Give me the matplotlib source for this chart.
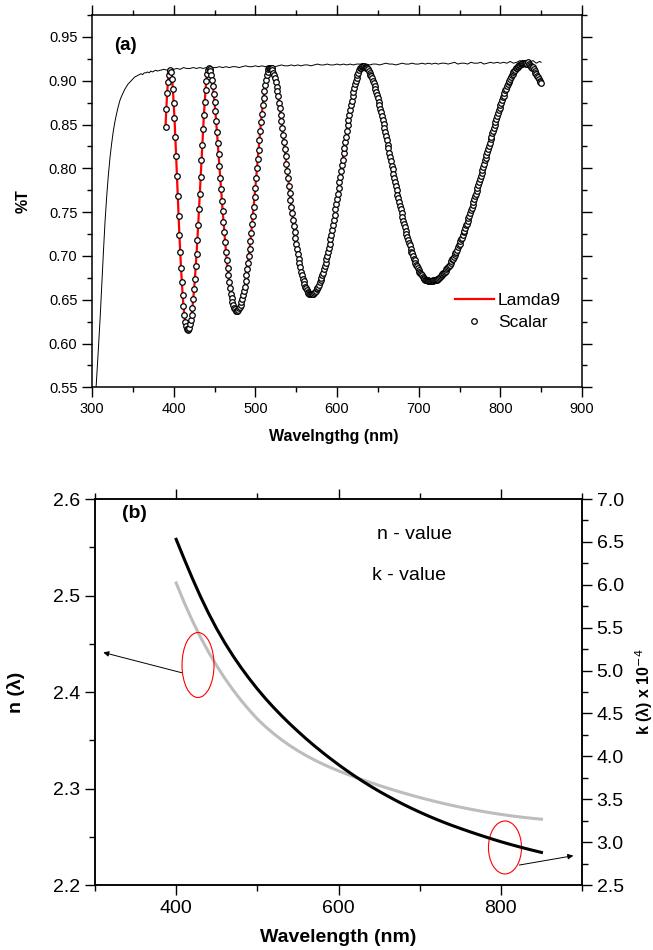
import numpy as np
import matplotlib
matplotlib.use("Agg")
import matplotlib.pyplot as plt
from matplotlib.patches import Ellipse
from matplotlib.ticker import MultipleLocator

plt.rcParams['font.family'] = ['Liberation Sans', 'DejaVu Sans']

# ---- panel (a) : transmission ----
# bare substrate (thin black line)
sub_wl = [305, 306, 308, 310, 312, 314, 316, 318, 320, 322, 324, 326, 328, 330,
          332, 334, 336, 338, 340, 342, 344, 346, 348, 350, 352, 354, 356, 358,
          360, 362, 364, 366, 368, 370, 372, 374, 376, 378, 380] + list(range(384, 849, 4)) + [850]
sub_T = [0.550, 0.565, 0.597, 0.630, 0.668, 0.705, 0.740, 0.768, 0.792, 0.812,
         0.828, 0.842, 0.853, 0.862, 0.870, 0.877, 0.882, 0.886, 0.890, 0.893,
         0.896, 0.898, 0.900, 0.902, 0.904, 0.905, 0.906, 0.907, 0.908, 0.907,
         0.909, 0.909, 0.910, 0.909, 0.911, 0.910, 0.911, 0.912, 0.911,
         # 384 .. 848 every 4 nm
         0.912, 0.913, 0.912, 0.914, 0.913, 0.914, 0.913, 0.915, 0.914, 0.914,
         0.915, 0.914, 0.915, 0.914, 0.915, 0.916, 0.915, 0.915, 0.916, 0.915,
         0.916, 0.915, 0.916, 0.916, 0.915, 0.916, 0.917, 0.916, 0.916, 0.917,
         0.916, 0.917, 0.916, 0.917, 0.917, 0.916, 0.917, 0.918, 0.917, 0.917,
         0.918, 0.917, 0.918, 0.917, 0.918, 0.918, 0.917, 0.918, 0.919, 0.918,
         0.918, 0.919, 0.918, 0.918, 0.919, 0.918, 0.919, 0.918, 0.919, 0.918,
         0.919, 0.919, 0.918, 0.919, 0.918, 0.919, 0.919, 0.918, 0.919, 0.920,
         0.919, 0.919, 0.918, 0.919, 0.920, 0.919, 0.919, 0.920, 0.919, 0.919,
         0.920, 0.919, 0.920, 0.919, 0.920, 0.919, 0.920, 0.920, 0.919, 0.920,
         0.921, 0.919, 0.920, 0.920, 0.919, 0.921, 0.920, 0.920, 0.921, 0.919,
         0.920, 0.921, 0.920, 0.921, 0.920, 0.921, 0.920, 0.922, 0.920, 0.921,
         0.923, 0.920, 0.922, 0.921, 0.923, 0.920, 0.922,
         0.921]

# film, 1 nm steps from 390 to 850 nm
scalar_wl = np.arange(390, 851)
scalar_T = [
    # 390-396
    0.847, 0.868, 0.886, 0.899, 0.907, 0.911, 0.912,
    # 397-417
    0.910, 0.902, 0.891, 0.875, 0.857, 0.836, 0.814, 0.791, 0.768, 0.746,
    0.724, 0.704, 0.686, 0.670, 0.655, 0.643, 0.633, 0.625, 0.620, 0.616, 0.615,
    # 418-443
    0.616, 0.618, 0.622, 0.627, 0.633, 0.641, 0.651, 0.662, 0.674, 0.688,
    0.702, 0.718, 0.735, 0.753, 0.771, 0.790, 0.809, 0.827, 0.845, 0.861,
    0.876, 0.889, 0.900, 0.908, 0.912, 0.914,
    # 444-477
    0.913, 0.911, 0.907, 0.901, 0.894, 0.885, 0.876, 0.865, 0.854, 0.841,
    0.829, 0.816, 0.803, 0.789, 0.776, 0.763, 0.751, 0.739, 0.727, 0.716,
    0.705, 0.695, 0.686, 0.678, 0.670, 0.663, 0.657, 0.652, 0.647, 0.644,
    0.641, 0.639, 0.637, 0.637,
    # 478-518
    0.637, 0.638, 0.640, 0.642, 0.644, 0.647, 0.651, 0.655, 0.660, 0.665,
    0.671, 0.678, 0.685, 0.692, 0.700, 0.708, 0.717, 0.726, 0.736, 0.746,
    0.756, 0.767, 0.778, 0.789, 0.800, 0.811, 0.821, 0.832, 0.843, 0.853,
    0.862, 0.872, 0.880, 0.888, 0.895, 0.901, 0.906, 0.910, 0.913, 0.914, 0.915,
    # 519-568
    0.915, 0.914, 0.912, 0.909, 0.906, 0.903, 0.898, 0.893, 0.888, 0.882,
    0.875, 0.869, 0.861, 0.854, 0.846, 0.838, 0.830, 0.822, 0.814, 0.805,
    0.797, 0.789, 0.780, 0.772, 0.764, 0.756, 0.749, 0.741, 0.734, 0.727,
    0.720, 0.714, 0.708, 0.702, 0.697, 0.692, 0.687, 0.682, 0.678, 0.674,
    0.671, 0.668, 0.665, 0.663, 0.661, 0.659, 0.658, 0.657, 0.656, 0.656,
    # 569-632
    0.656, 0.656, 0.657, 0.658, 0.659, 0.660, 0.662, 0.663, 0.665, 0.667,
    0.670, 0.672, 0.675, 0.678, 0.681, 0.685, 0.688, 0.692, 0.696, 0.700,
    0.705, 0.709, 0.714, 0.719, 0.724, 0.730, 0.735, 0.741, 0.747, 0.753,
    0.759, 0.765, 0.771, 0.778, 0.784, 0.790, 0.797, 0.804, 0.810, 0.817,
    0.823, 0.830, 0.836, 0.843, 0.849, 0.855, 0.861, 0.866, 0.872, 0.877,
    0.883, 0.887, 0.892, 0.896, 0.900, 0.903, 0.907, 0.909, 0.912, 0.914,
    0.915, 0.916, 0.917, 0.917,
    # 633-714
    0.917, 0.916, 0.916, 0.915, 0.914, 0.913, 0.911, 0.909, 0.907, 0.905,
    0.903, 0.900, 0.897, 0.894, 0.891, 0.887, 0.884, 0.880, 0.876, 0.872,
    0.868, 0.864, 0.860, 0.855, 0.851, 0.846, 0.842, 0.837, 0.832, 0.827,
    0.823, 0.818, 0.813, 0.808, 0.803, 0.799, 0.794, 0.789, 0.784, 0.780,
    0.775, 0.770, 0.766, 0.761, 0.757, 0.753, 0.749, 0.744, 0.740, 0.736,
    0.733, 0.729, 0.725, 0.722, 0.718, 0.715, 0.712, 0.708, 0.705, 0.703,
    0.700, 0.697, 0.695, 0.692, 0.690, 0.688, 0.686, 0.684, 0.682, 0.681,
    0.679, 0.678, 0.676, 0.675, 0.674, 0.673, 0.673, 0.672, 0.672, 0.671,
    0.671, 0.671,
    # 715-829
    0.671, 0.671, 0.671, 0.672, 0.672, 0.672, 0.673, 0.673, 0.674, 0.674,
    0.675, 0.676, 0.677, 0.678, 0.679, 0.680, 0.681, 0.682, 0.683, 0.685,
    0.686, 0.687, 0.689, 0.690, 0.692, 0.694, 0.696, 0.697, 0.699, 0.701,
    0.703, 0.705, 0.707, 0.710, 0.712, 0.714, 0.717, 0.719, 0.721, 0.724,
    0.727, 0.729, 0.732, 0.735, 0.737, 0.740, 0.743, 0.746, 0.749, 0.752,
    0.755, 0.758, 0.761, 0.765, 0.768, 0.771, 0.774, 0.778, 0.781, 0.784,
    0.788, 0.791, 0.795, 0.798, 0.802, 0.805, 0.809, 0.812, 0.815, 0.819,
    0.822, 0.826, 0.829, 0.833, 0.836, 0.840, 0.843, 0.846, 0.850, 0.853,
    0.856, 0.860, 0.863, 0.866, 0.869, 0.872, 0.875, 0.878, 0.881, 0.883,
    0.886, 0.889, 0.891, 0.894, 0.896, 0.898, 0.900, 0.902, 0.904, 0.906,
    0.908, 0.910, 0.911, 0.912, 0.914, 0.915, 0.916, 0.917, 0.918, 0.918,
    0.919, 0.919, 0.920, 0.920, 0.920,
    # 830-850
    0.920, 0.919, 0.920, 0.919, 0.921, 0.919, 0.918, 0.917, 0.916, 0.915,
    0.916, 0.913, 0.911, 0.909, 0.908, 0.905, 0.904, 0.902, 0.900, 0.898, 0.897,
]
# Lamda9 measurement lies under the scalar points at this scale
lamda9_T = scalar_T

# ---- panel (b) : optical constants ----
nk_wl = np.arange(400, 851, 10)
n_vals = [2.5130, 2.4925, 2.4738, 2.4568, 2.4413, 2.4271, 2.4141, 2.4022, 2.3913, 2.3813,
          2.3721, 2.3641, 2.3569, 2.3504, 2.3445, 2.3391, 2.3342, 2.3297, 2.3256, 2.3218,
          2.3183, 2.3150, 2.3119, 2.3089, 2.3060, 2.3032, 2.3005, 2.2979, 2.2954, 2.2930,
          2.2907, 2.2885, 2.2864, 2.2844, 2.2825, 2.2807, 2.2790, 2.2774, 2.2759, 2.2745,
          2.2732, 2.2720, 2.2709, 2.2699, 2.2690, 2.2682]
k_vals = [6.530, 6.298, 6.074, 5.862, 5.666, 5.486, 5.322, 5.172, 5.034, 4.906,
          4.786, 4.674, 4.570, 4.472, 4.379, 4.291, 4.206, 4.125, 4.048, 3.974,
          3.903, 3.835, 3.770, 3.708, 3.649, 3.593, 3.540, 3.489, 3.440, 3.394,
          3.350, 3.308, 3.268, 3.230, 3.194, 3.160, 3.127, 3.095, 3.064, 3.034,
          3.005, 2.978, 2.952, 2.927, 2.903, 2.880]

fig = plt.figure(figsize=(6.53, 9.5), dpi=100)

# panel (a)
ax1 = fig.add_axes([0.1409, 0.5923, 0.7504, 0.3919])
ax1.plot(sub_wl, sub_T, color='black', lw=0.7)
ax1.plot(scalar_wl, lamda9_T, color='red', lw=1.6, label='Lamda9', zorder=3)
ax1.plot(scalar_wl, scalar_T, 'o', ms=4, mfc='white', mec='black', mew=0.9,
         label='Scalar', zorder=4)
ax1.set_xlim(300, 900)
ax1.set_ylim(0.55, 0.975)
ax1.xaxis.set_major_locator(MultipleLocator(100))
ax1.xaxis.set_minor_locator(MultipleLocator(50))
ax1.yaxis.set_major_locator(MultipleLocator(0.05))
ax1.yaxis.set_minor_locator(MultipleLocator(0.025))
ax1.yaxis.set_major_formatter(plt.FormatStrFormatter('%.2f'))
ax1.tick_params(which='both', direction='out', top=True, right=True, width=1, labelsize=10.5)
ax1.tick_params(which='major', length=7)
ax1.tick_params(which='minor', length=3.5)
for s in ax1.spines.values():
    s.set_linewidth(1.1)
ax1.set_xlabel('Wavelngthg (nm)', fontsize=11.5, fontweight='bold')
ax1.set_ylabel('%T', fontsize=11.5, fontweight='bold')
ax1.xaxis.set_label_coords(0.494, -0.112)
ax1.yaxis.set_label_coords(-0.126, 0.5)
ax1.text(327, 0.9405, '(a)', fontsize=13.5, fontweight='bold', va='center')
ax1.legend(loc='upper left', bbox_to_anchor=(0.74, 0.2535), frameon=False, fontsize=12.5,
           handlelength=2.25, handletextpad=0.25, labelspacing=0.38,
           borderpad=0, borderaxespad=0)

# panel (b)
ax3 = fig.add_axes([0.1455, 0.0684, 0.7458, 0.4063])
ax4 = ax3.twinx()
ax3.plot(nk_wl, n_vals, color='#bdbdbd', lw=2.2)
ax4.plot(nk_wl, k_vals, color='black', lw=2.2)
ax3.set_xlim(300, 900)
ax3.set_ylim(2.2, 2.6)
ax4.set_ylim(2.5, 7.0)
ax3.xaxis.set_major_locator(MultipleLocator(200))
ax3.xaxis.set_minor_locator(MultipleLocator(100))
ax3.yaxis.set_major_locator(MultipleLocator(0.1))
ax3.yaxis.set_minor_locator(MultipleLocator(0.05))
ax4.yaxis.set_major_locator(MultipleLocator(0.5))
ax4.yaxis.set_minor_locator(MultipleLocator(0.25))
ax4.yaxis.set_major_formatter(plt.FormatStrFormatter('%.1f'))
ax3.tick_params(which='both', direction='out', top=True, width=1, labelsize=14)
ax4.tick_params(which='both', direction='out', width=1, labelsize=14)
for a in (ax3, ax4):
    a.tick_params(which='major', length=7)
    a.tick_params(which='minor', length=4.5)
    for s in a.spines.values():
        s.set_linewidth(1.1)
ax3.set_xlabel('Wavelength (nm)', fontsize=14, fontweight='bold')
ax3.set_ylabel('n (λ)', fontsize=14, fontweight='bold')
ax4.set_ylabel('k (λ) x 10$^{-4}$', fontsize=11.5, fontweight='bold')
ax3.xaxis.set_label_coords(0.5, -0.114)
ax3.yaxis.set_label_coords(-0.1437, 0.5)
ax4.yaxis.set_label_coords(1.105, 0.5)

ax3.text(333, 2.5845, '(b)', fontsize=14, fontweight='bold', va='center')
ax3.text(647, 2.5637, 'n - value', fontsize=14, va='center')
ax3.text(641, 2.5212, 'k - value', fontsize=14, va='center')

# red marks linking each curve to its axis
ax3.add_patch(Ellipse((426.9, 2.428), 39.4, 0.0674, fill=False, ec='red', lw=0.8, zorder=5))
ax3.add_patch(Ellipse((805.1, 2.2389), 40.7, 0.0549, fill=False, ec='red', lw=0.8, zorder=5))
arrow = dict(arrowstyle='-|>', color='black', lw=0.7, mutation_scale=8, shrinkA=0, shrinkB=0)
ax3.annotate('', xy=(310.2, 2.441), xytext=(406.8, 2.420), arrowprops=arrow)
ax3.annotate('', xy=(889.3, 2.2304), xytext=(822.7, 2.2207), arrowprops=arrow)

fig.savefig('out.png', dpi=100)
